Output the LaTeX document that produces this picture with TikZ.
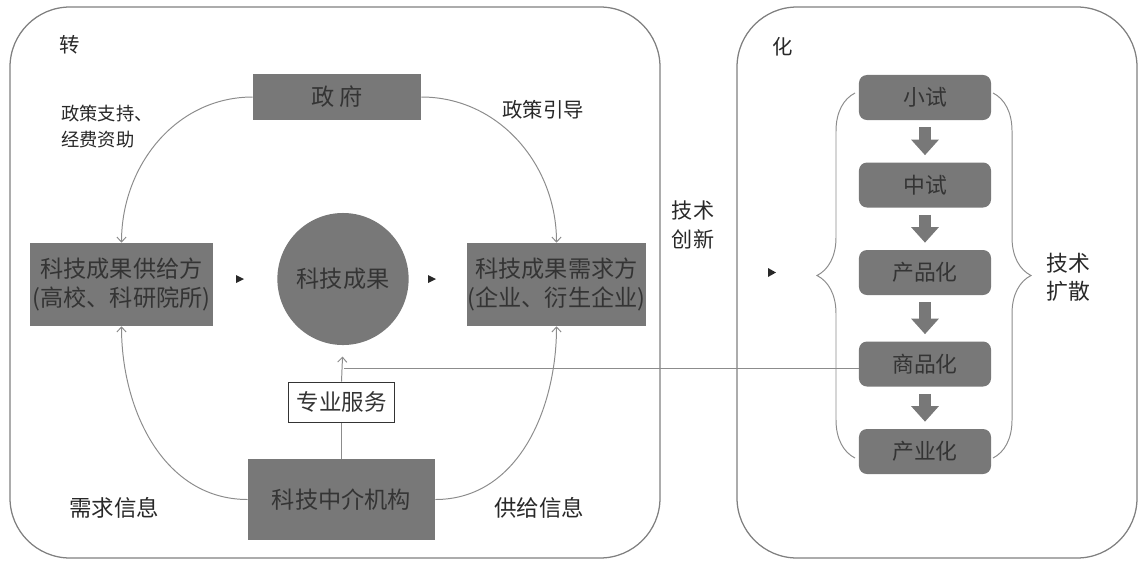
\documentclass[tikz,border=0pt]{standalone}
\usepackage{fontspec}
\newfontfamily\cjkfont{Noto Sans CJK SC}
\usetikzlibrary{arrows.meta,shapes.geometric,decorations.pathreplacing}
\definecolor{boxgray}{RGB}{120,120,120}
\definecolor{linegray}{RGB}{140,140,140}
\definecolor{framegray}{RGB}{128,128,128}
\definecolor{textdark}{RGB}{52,52,52}
\definecolor{labeltext}{RGB}{40,40,40}

\begin{document}
\begin{tikzpicture}[x=0.025cm, y=-0.025cm, font=\cjkfont,
  darkbox/.style={fill=boxgray, text=textdark, inner sep=0pt, align=center, font=\cjkfont\fontsize{16.5}{21}\selectfont},
  stagebox/.style={fill=boxgray, rounded corners=0.2cm, minimum width=3.3cm, minimum height=1.125cm, inner sep=0pt, text=textdark, font=\cjkfont\fontsize{15.5}{18}\selectfont},
  plainlabel/.style={text=labeltext, inner sep=0pt, align=center},
  flowline/.style={draw=linegray, line width=0.7pt, -{Straight Barb[length=3.5pt,width=6.5pt]}},
  plainline/.style={draw=linegray, line width=0.7pt},
  blockarrow/.style={draw=boxgray, line width=9.2pt, shorten <=5pt, shorten >=5pt, -{Triangle[length=11pt,width=19pt]}}]
\useasboundingbox (0,0) rectangle (1143,561);

% Frames
\draw[framegray, line width=0.9pt, rounded corners=1.5cm] (10,7) rectangle (660,558);
\draw[framegray, line width=0.9pt, rounded corners=1.5cm] (737,7) rectangle (1137,558);
\node[plainlabel, font=\cjkfont\fontsize{14.5}{17}\selectfont] (zhuan) at (70,45) {转};
\node[plainlabel, font=\cjkfont\fontsize{14.5}{17}\selectfont] (hua) at (783,47) {化};

% Left part
\node[darkbox, minimum width=4.2cm, minimum height=1.15cm] (gov) at (337,97) {政 府};
\node[darkbox, minimum width=4.575cm, minimum height=2.075cm] (supply) at (121.5,284.5) {科技成果供给方\\(高校、科研院所)};
\node[darkbox, ellipse, minimum width=3.1cm, minimum height=3.3cm] (result) at (343,279) {科技成果};
\node[darkbox, minimum width=4.475cm, minimum height=2.075cm] (demand) at (556.5,284.5) {科技成果需求方\\(企业、衍生企业)};
\node[draw=textdark, fill=white, line width=0.7pt, inner sep=0pt, minimum width=2.625cm, minimum height=1cm, text=textdark, font=\cjkfont\fontsize{16}{19}\selectfont] (service) at (341.5,402) {专业服务};
\node[darkbox, minimum width=4.675cm, minimum height=2.025cm] (agency) at (341.5,499.5) {科技中介机构};

% Labels
\node[plainlabel, align=left, font=\cjkfont\fontsize{13}{19}\selectfont] (support) at (107,126.5) {政策支持、\\经费资助};
\node[plainlabel, font=\cjkfont\fontsize{14.5}{17}\selectfont] (guide) at (543,110) {政策引导};
\node[plainlabel, font=\cjkfont\fontsize{16}{19}\selectfont] (demandinfo) at (114,508) {需求信息};
\node[plainlabel, font=\cjkfont\fontsize{16}{19}\selectfont] (supplyinfo) at (539,508) {供给信息};
\node[plainlabel, font=\cjkfont\fontsize{15}{20}\selectfont] (innov) at (693,225) {技术\\创新};
\node[plainlabel, font=\cjkfont\fontsize{15.5}{20}\selectfont] (diffuse) at (1068,277) {技术\\扩散};

% Connectors
\draw[flowline] (gov.west) to[out=180,in=90] (supply.north);
\draw[flowline] (gov.east) to[out=0,in=90] (demand.north);
\draw[flowline] (agency.west) to[out=180,in=-90] (supply.south);
\draw[flowline] (agency.east) to[out=0,in=-90] (demand.south);
\draw[plainline] (agency.north) -- (service.south);
\draw[flowline, shorten >=8pt] (service.north) -- (result.south);

% Small arrow tips
\fill[labeltext] (236,275) -- (244,279) -- (236,283) -- cycle;
\fill[labeltext] (428,275) -- (436,279) -- (428,283) -- cycle;
\fill[labeltext] (768,268) -- (776,272.5) -- (768,277) -- cycle;

% Right part
\node[stagebox] (small) at (925,97.5) {小试};
\node[stagebox] (middle) at (925,185) {中试};
\node[stagebox] (product) at (925,272.5) {产品化};
\node[stagebox] (commodity) at (925,364) {商品化};
\node[stagebox] (industry) at (925,451.5) {产业化};
\draw[blockarrow] (small.south) -- (middle.north);
\draw[blockarrow] (middle.south) -- (product.north);
\draw[blockarrow] (product.south) -- (commodity.north);
\draw[blockarrow] (commodity.south) -- (industry.north);

% Braces
\draw[plainline, decorate, decoration={brace, amplitude=0.95cm}] (855,458) -- (855,93);
\draw[plainline, decorate, decoration={brace, amplitude=0.95cm}] (993,93) -- (993,458);

% Link to service arrow
\coordinate (join) at (344,368);
\draw[plainline] (join) -- (join -| commodity.west);
\end{tikzpicture}
\end{document}
